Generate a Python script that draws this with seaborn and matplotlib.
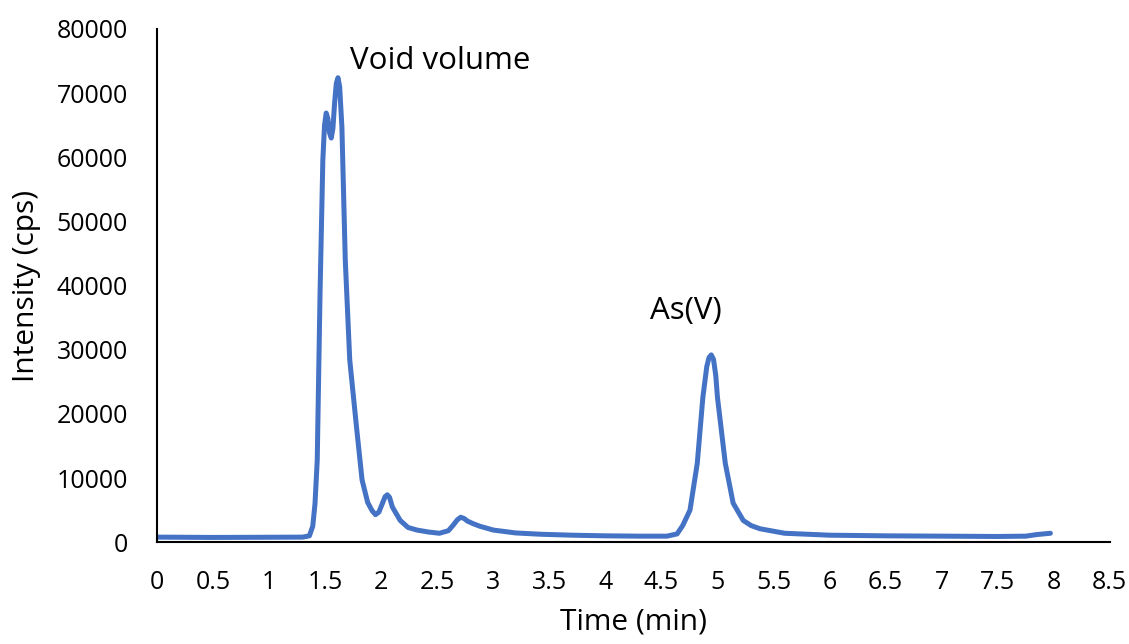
import matplotlib
matplotlib.use("Agg")
import matplotlib.pyplot as plt
import seaborn as sns
import pandas as pd

time_min = [0.0, 0.5, 1.0, 1.3, 1.36, 1.39, 1.41, 1.43, 1.455, 1.48, 1.495, 1.51, 1.525, 1.54,
            1.555, 1.57, 1.585, 1.60, 1.615, 1.63, 1.65, 1.68, 1.72, 1.78, 1.83, 1.88, 1.92,
            1.95, 1.98, 2.01, 2.035, 2.055, 2.075, 2.1, 2.17, 2.24, 2.32, 2.42, 2.52, 2.6, 2.64,
            2.68, 2.71, 2.74, 2.77, 2.82, 2.88, 3.0, 3.2, 3.42, 3.7, 4.0, 4.3, 4.55, 4.64, 4.69,
            4.755, 4.82, 4.87, 4.905, 4.925, 4.945, 4.965, 4.985, 5.0, 5.07, 5.14, 5.23, 5.3,
            5.38, 5.6, 6.0, 6.5, 7.0, 7.5, 7.75, 7.85, 7.97]
intensity = [800, 750, 780, 800, 1000, 2500, 6000, 12800, 38800, 59600, 65000, 66900, 66000, 63800,
             63000, 64500, 68500, 71500, 72400, 71000, 64700, 44000, 28400, 18000, 9700, 6200, 4900,
             4300, 4700, 6000, 7100, 7400, 7000, 5500, 3400, 2300, 1900, 1600, 1400, 1800, 2600,
             3500, 3900, 3700, 3300, 2900, 2500, 1900, 1450, 1250, 1100, 1000, 950, 950, 1300, 2600,
             5000, 12300, 22600, 27400, 28800, 29200, 28500, 26000, 22600, 12300, 6100, 3400, 2600,
             2100, 1400, 1100, 1000, 950, 900, 950, 1200, 1400]

df = pd.DataFrame({"Time (min)": time_min, "Intensity (cps)": intensity})

sns.set_theme(style="white")
plt.rcParams["font.family"] = ["Open Sans", "DejaVu Sans"]

fig = plt.figure(figsize=(11.29, 6.44), dpi=100)
ax = fig.add_axes([0.139, 0.158, 0.844, 0.797])

sns.lineplot(data=df, x="Time (min)", y="Intensity (cps)", ax=ax, color="#4472C4",
             linewidth=3.6, solid_joinstyle="round", solid_capstyle="round")

ax.set_xlim(0, 8.5)
ax.set_ylim(0, 80000)
ax.set_xticks([i * 0.5 for i in range(18)])
ax.set_xticklabels(["0", "0.5", "1", "1.5", "2", "2.5", "3", "3.5", "4", "4.5", "5", "5.5",
                    "6", "6.5", "7", "7.5", "8", "8.5"])
ax.set_yticks(range(0, 80001, 10000))
ax.set_yticklabels([str(v) for v in range(0, 80001, 10000)])
ax.tick_params(axis="both", length=0, labelsize=18, colors="black")
ax.tick_params(axis="x", pad=20)
ax.tick_params(axis="y", pad=21)

for s in ["top", "right"]:
    ax.spines[s].set_visible(False)
for s in ["left", "bottom"]:
    ax.spines[s].set_color("black")
    ax.spines[s].set_linewidth(1.5)

ax.set_xlabel("Time (min)", fontsize=21.5, color="black", labelpad=9)
ax.set_ylabel("Intensity (cps)", fontsize=21.5, color="black", labelpad=11)

ax.text(1.72, 75000, "Void volume", fontsize=22.5, color="black", ha="left", va="center")
ax.text(4.72, 36000, "As(V)", fontsize=22.5, color="black", ha="center", va="center")

fig.savefig("out.png", dpi=100)
